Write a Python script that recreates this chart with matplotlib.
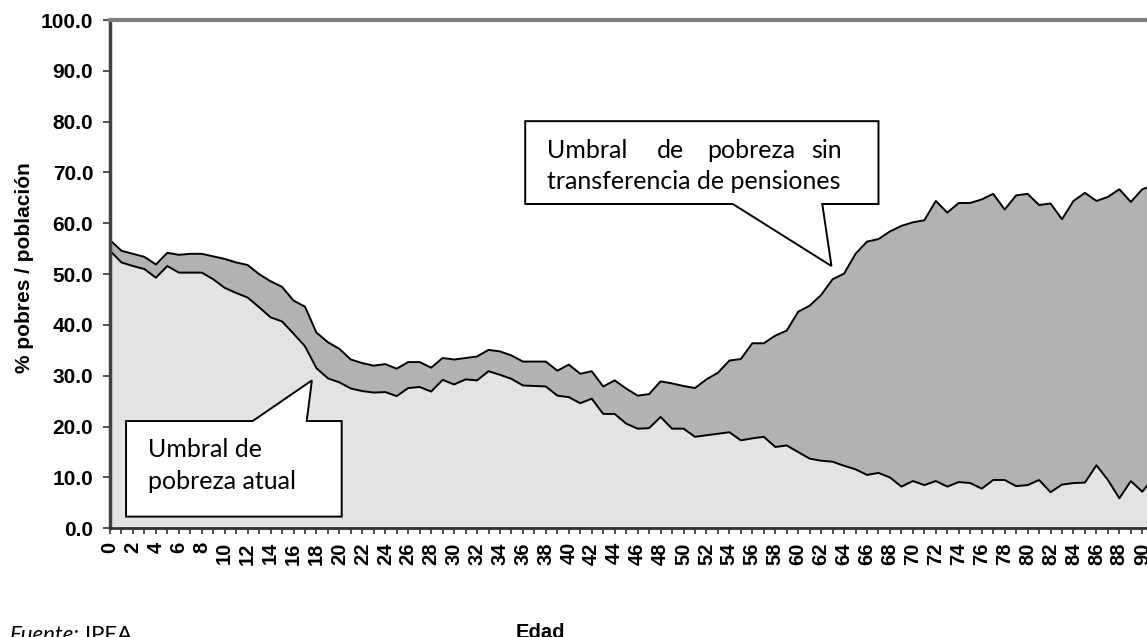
import matplotlib
matplotlib.use('Agg')
import matplotlib.pyplot as plt
from matplotlib.patches import Polygon

# age groups 0..91
ages = list(range(0, 92))

# poverty rate without pension transfers
sin_pensiones = [
    56.7, 54.6, 54.0, 53.4, 51.9, 54.2, 53.8, 54.0, 54.0, 53.5,
    53.0, 52.3, 51.8, 50.0, 48.6, 47.5, 44.8, 43.6, 38.5, 36.6,
    35.3, 33.2, 32.5, 32.0, 32.3, 31.4, 32.7, 32.7, 31.6, 33.5,
    33.2, 33.5, 33.8, 35.1, 34.8, 34.0, 32.8, 32.8, 32.8, 31.0,
    32.2, 30.4, 30.9, 27.9, 29.1, 27.5, 26.1, 26.4, 28.9, 28.5,
    28.0, 27.6, 29.3, 30.6, 33.0, 33.3, 36.4, 36.4, 37.9, 38.9,
    42.6, 43.8, 45.9, 49.0, 50.1, 54.0, 56.4, 56.9, 58.4, 59.5,
    60.2, 60.6, 64.4, 62.1, 64.0, 64.0, 64.7, 65.8, 62.7, 65.5,
    65.8, 63.6, 63.9, 60.8, 64.4, 66.0, 64.4, 65.2, 66.7, 64.2,
    66.7, 67.5,
]

# current poverty rate
atual = [
    54.6, 52.3, 51.6, 51.0, 49.3, 51.6, 50.3, 50.3, 50.3, 49.0,
    47.3, 46.3, 45.4, 43.5, 41.5, 40.7, 38.3, 35.8, 31.5, 29.5,
    28.7, 27.5, 27.0, 26.7, 26.8, 26.0, 27.6, 27.8, 26.9, 29.2,
    28.3, 29.3, 29.1, 30.9, 30.2, 29.4, 28.1, 28.0, 27.9, 26.1,
    25.8, 24.6, 25.5, 22.5, 22.5, 20.6, 19.6, 19.7, 21.9, 19.6,
    19.6, 18.0, 18.3, 18.6, 18.9, 17.3, 17.7, 18.0, 16.0, 16.3,
    15.0, 13.7, 13.3, 13.1, 12.3, 11.6, 10.5, 10.9, 10.0, 8.2,
    9.3, 8.5, 9.3, 8.2, 9.1, 8.9, 7.8, 9.5, 9.5, 8.3,
    8.5, 9.5, 7.1, 8.6, 8.9, 9.0, 12.4, 9.5, 5.9, 9.3,
    7.2, 10.0,
]

y_ticks = [0, 10, 20, 30, 40, 50, 60, 70, 80, 90, 100]

plt.rcParams['font.family'] = ['Liberation Sans', 'DejaVu Sans']
callout_font = ['Lato', 'DejaVu Sans']

W, H = 1147, 637
fig = plt.figure(figsize=(W / 100, H / 100), dpi=100)
# pixel layout of the plot area (0 at y=528, 100 at y=20, age step 11.47 px)
x0, y0, y100, step = 110, 528.3, 20, 11.47
ax = fig.add_axes([x0 / W, 1 - y0 / H, (91 * step) / W, (y0 - y100) / H])

ax.fill_between(ages, sin_pensiones, 0, color='#b2b2b2', lw=0)
ax.plot(ages, sin_pensiones, color='black', lw=1.4)
ax.fill_between(ages, atual, 0, color='#e3e3e3', lw=0)
ax.plot(ages, atual, color='black', lw=1.4)

ax.set_xlim(0, 91)
ax.set_ylim(0, 100)

# axes styling
ax.spines['right'].set_visible(False)
ax.spines['top'].set_color('#808080')
ax.spines['top'].set_linewidth(3)
ax.spines['left'].set_color('#404040')
ax.spines['left'].set_linewidth(2.5)
ax.spines['bottom'].set_color('#333333')
ax.spines['bottom'].set_linewidth(2)

ax.set_yticks(y_ticks)
ax.set_yticklabels([f'{v:.1f}' for v in y_ticks], fontsize=15, fontweight='bold')
ax.set_xticks(ages)
ax.set_xticklabels([str(a) if a % 2 == 0 else '' for a in ages],
                   rotation=90, fontsize=14.5, fontweight='bold')
ax.tick_params(axis='y', direction='out', length=5, width=1.2, pad=7, color='#333333')
ax.tick_params(axis='x', direction='out', length=4, width=1.2, pad=6, color='#333333')

fig.text(25 / W, 1 - 268 / H, '% pobres / población', rotation=90,
         ha='center', va='center', fontsize=15, fontweight='bold')
fig.text(540 / W, 1 - 638 / H, 'Edad', ha='center', va='baseline',
         fontsize=14.5, fontweight='bold')
fig.text(10 / W, 1 - 641 / H, 'Fuente:', ha='left', va='baseline',
         fontsize=16, style='italic', family=callout_font)
fig.text(85 / W, 1 - 641 / H, 'IPEA', ha='left', va='baseline',
         fontsize=16, family=callout_font)

# callout: without pensions
box1 = [(36.2, 80.1), (67.0, 80.1), (67.0, 63.8), (62.1, 63.8),
        (62.9, 51.6), (54.3, 63.8), (36.2, 63.8)]
ax.add_patch(Polygon(box1, closed=True, facecolor='white', edgecolor='black',
                     lw=1.4, zorder=5))
for word, xpos, ha in [('Umbral', 38.1, 'left'), ('de', 47.7, 'left'),
                       ('pobreza', 52.1, 'left'), ('sin', 63.8, 'right')]:
    ax.text(xpos, 72.9, word, ha=ha, va='baseline', fontsize=18,
            family=callout_font, zorder=6)
ax.text(38.1, 66.7, 'transferencia de pensiones', ha='left', va='baseline',
        fontsize=18, family=callout_font, zorder=6)

# callout: current threshold
box2 = [(1.4, 21.1), (12.44, 21.1), (17.6, 29.1), (17.15, 21.1),
        (20.2, 21.1), (20.2, 2.3), (1.4, 2.3)]
ax.add_patch(Polygon(box2, closed=True, facecolor='white', edgecolor='black',
                     lw=1.4, zorder=5))
ax.text(3.3, 14.0, 'Umbral de', ha='left', va='baseline', fontsize=18,
        family=callout_font, zorder=6)
ax.text(3.3, 7.8, 'pobreza atual', ha='left', va='baseline', fontsize=18,
        family=callout_font, zorder=6)

fig.savefig('out.png', dpi=100)
